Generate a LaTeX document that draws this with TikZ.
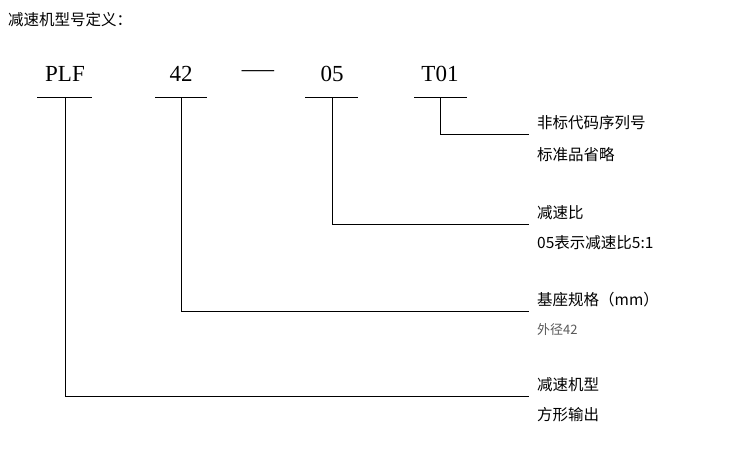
\documentclass[tikz,border=0pt]{standalone}
\usepackage{fontspec}
\setmainfont{Liberation Serif}
\newfontfamily\cjk{Noto Sans CJK SC}
\tikzset{code/.style={font=\fontsize{23}{25}\selectfont, inner sep=0pt},
  lbl/.style={anchor=west, font=\cjk\fontsize{15.5}{17}\selectfont, inner sep=0pt},
  sub/.style={anchor=west, font=\cjk\fontsize{13}{15}\selectfont, text=black!65, inner sep=0pt},
  bar/.style={line width=0.8pt}}
\begin{document}
\begin{tikzpicture}[x=1pt,y=-1pt]
\useasboundingbox (0,0) rectangle (750,450);
\node[anchor=west, font=\cjk\fontsize{15.5}{17}\selectfont, inner sep=0pt] (title) at (8,20) {减速机型号定义：};

\node[code] (plf) at (65,74) {PLF};
\node[code] (n42) at (181,74) {42};
\node[code, xscale=1.4] (dash) at (258,74) {—};
\node[code] (n05) at (332,74) {05};
\node[code] (t01) at (440,74) {T01};

\draw[bar] (37,97) -- (92,97);
\draw[bar] (155,97) -- (207,97);
\draw[bar] (305,97) -- (358,97);
\draw[bar] (414,97) -- (467,97);

\node[lbl] (l1a) at (537,123) {非标代码序列号};
\node[lbl] (l1b) at (537,155) {标准品省略};
\node[lbl] (l2a) at (537,213) {减速比};
\node[lbl] (l2b) at (537,243) {05表示减速比5:1};
\node[lbl] (l3a) at (537,300) {基座规格（mm）};
\node[sub] (l3b) at (537,330) {外径42};
\node[lbl] (l4a) at (537,385) {减速机型};
\node[lbl] (l4b) at (537,415) {方形输出};

\draw[bar] (440,97) |- ([xshift=-8pt,yshift=-4pt]l1a.south west);
\draw[bar] (332,97) |- ([xshift=-8pt,yshift=-4pt]l2a.south west);
\draw[bar] (181,97) |- ([xshift=-8pt,yshift=-4pt]l3a.south west);
\draw[bar] (65,97) |- ([xshift=-8pt,yshift=-4pt]l4a.south west);
\end{tikzpicture}
\end{document}
